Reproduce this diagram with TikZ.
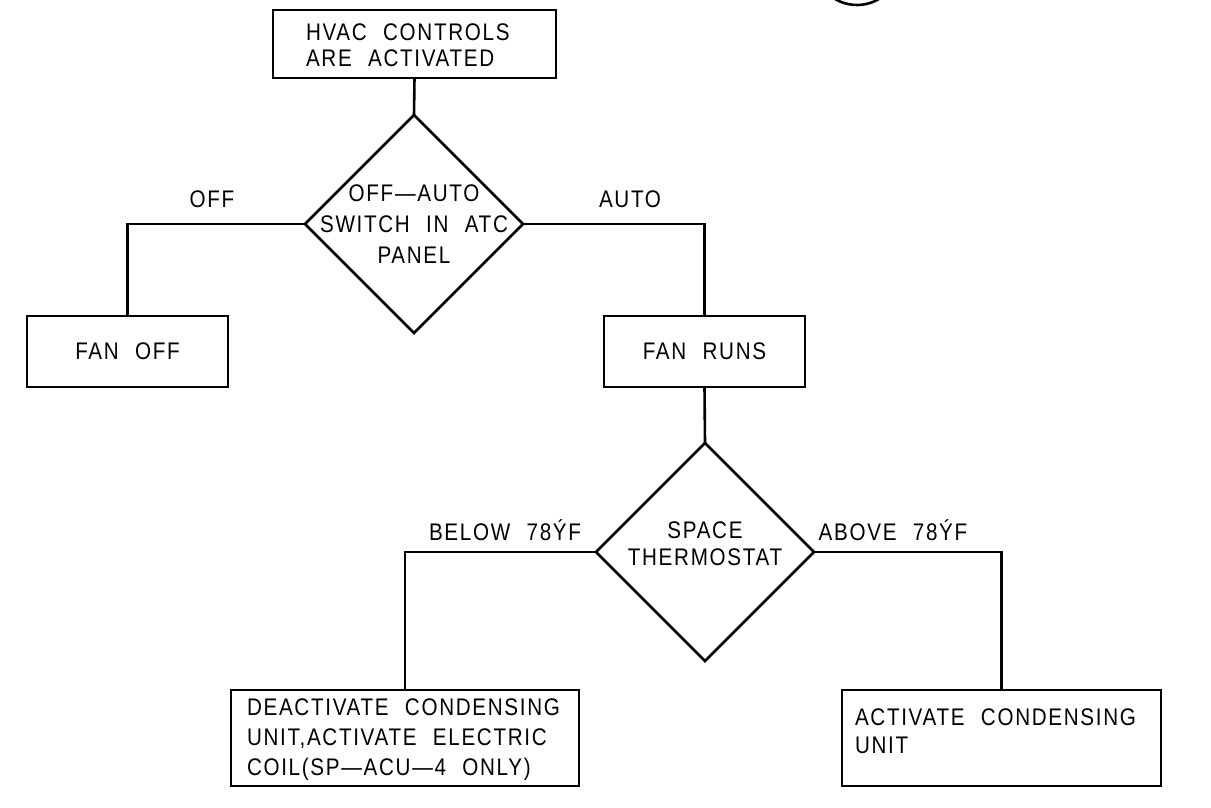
\documentclass[tikz,border=0pt]{standalone}
\usepackage{fontspec}
\newfontfamily\cadfont{Liberation Sans}[LetterSpace=7, FakeStretch=0.86, WordSpace=2.2]
\usetikzlibrary{shapes.geometric}
\tikzset{
  ln/.style={line width=2.6pt, line join=miter},
  boxnode/.style={draw, ln, rectangle, inner sep=0pt, outer sep=0pt},
  decision/.style={draw, ln, diamond, inner sep=0pt, outer sep=0pt, minimum width=218pt, minimum height=218pt},
  txt/.style={inner sep=0pt, outer sep=0pt, font=\cadfont\fontsize{24}{28}\selectfont},
  conn/.style={ln}
}
\begin{document}
\begin{tikzpicture}[x=1pt,y=-1pt]
\useasboundingbox (0,0) rectangle (1211,808);
\fill[white] (0,0) rectangle (1211,808);

% partial callout circle at top right
\node (callout) [draw, ln, circle, inner sep=0pt, minimum size=86pt] at (857,-38) {};

% boxes and decisions
\node (top) [boxnode, minimum width=283pt, minimum height=68pt] at (414.5,44) {};
\node (toptxt) [txt, align=left, anchor=west, font=\cadfont\fontsize{24}{26}\selectfont] at (306,45) {HVAC CONTROLS\\ARE ACTIVATED};

\node (d1) [decision] at (414,224) {};
\node (d1txt) [txt, align=center, font=\cadfont\fontsize{24}{31}\selectfont] at (414,224) {OFF—AUTO\\SWITCH IN ATC\\PANEL};

\node (fanoff) [boxnode, minimum width=201pt, minimum height=71pt] at (127.5,351.5) {};
\node (fanofftxt) [txt] at (127.5,351.5) {FAN OFF};

\node (fanruns) [boxnode, minimum width=201pt, minimum height=71pt] at (704.5,351.5) {};
\node (fanrunstxt) [txt] at (704.5,351.5) {FAN RUNS};

\node (d2) [decision] at (705,552) {};
\node (d2txt) [txt, align=center, font=\cadfont\fontsize{24}{27}\selectfont] at (705,544) {SPACE\\THERMOSTAT};

\node (deact) [boxnode, minimum width=348pt, minimum height=96pt] at (405,738) {};
\node (deacttxt) [txt, align=left, anchor=west, font=\cadfont\fontsize{24}{30}\selectfont] at (247,740) {DEACTIVATE CONDENSING\\UNIT,ACTIVATE ELECTRIC\\COIL(SP—ACU—4 ONLY)};

\node (act) [boxnode, minimum width=319pt, minimum height=96pt] at (1001.5,738) {};
\node (acttxt) [txt, align=left, anchor=west, font=\cadfont\fontsize{24}{28}\selectfont] at (855,731.5) {ACTIVATE CONDENSING\\UNIT};

% connectors
\draw[conn] (top.south) -- (d1.north);
\draw[conn] (d1.west) -| (fanoff.north);
\draw[conn] (d1.east) -| (fanruns.north);
\draw[conn] (fanruns.south) -- (d2.north);
\draw[conn] (d2.west) -| (deact.north);
\draw[conn] (d2.east) -| (act.north);

% branch labels
\node (loff) [txt] at (212,199) {OFF};
\node (lauto) [txt] at (630,199) {AUTO};
\node (lbelow) [txt] at (505,530) {BELOW 78ÝF};
\node (labove) [txt] at (893,530) {ABOVE 78ÝF};
\end{tikzpicture}
\end{document}
